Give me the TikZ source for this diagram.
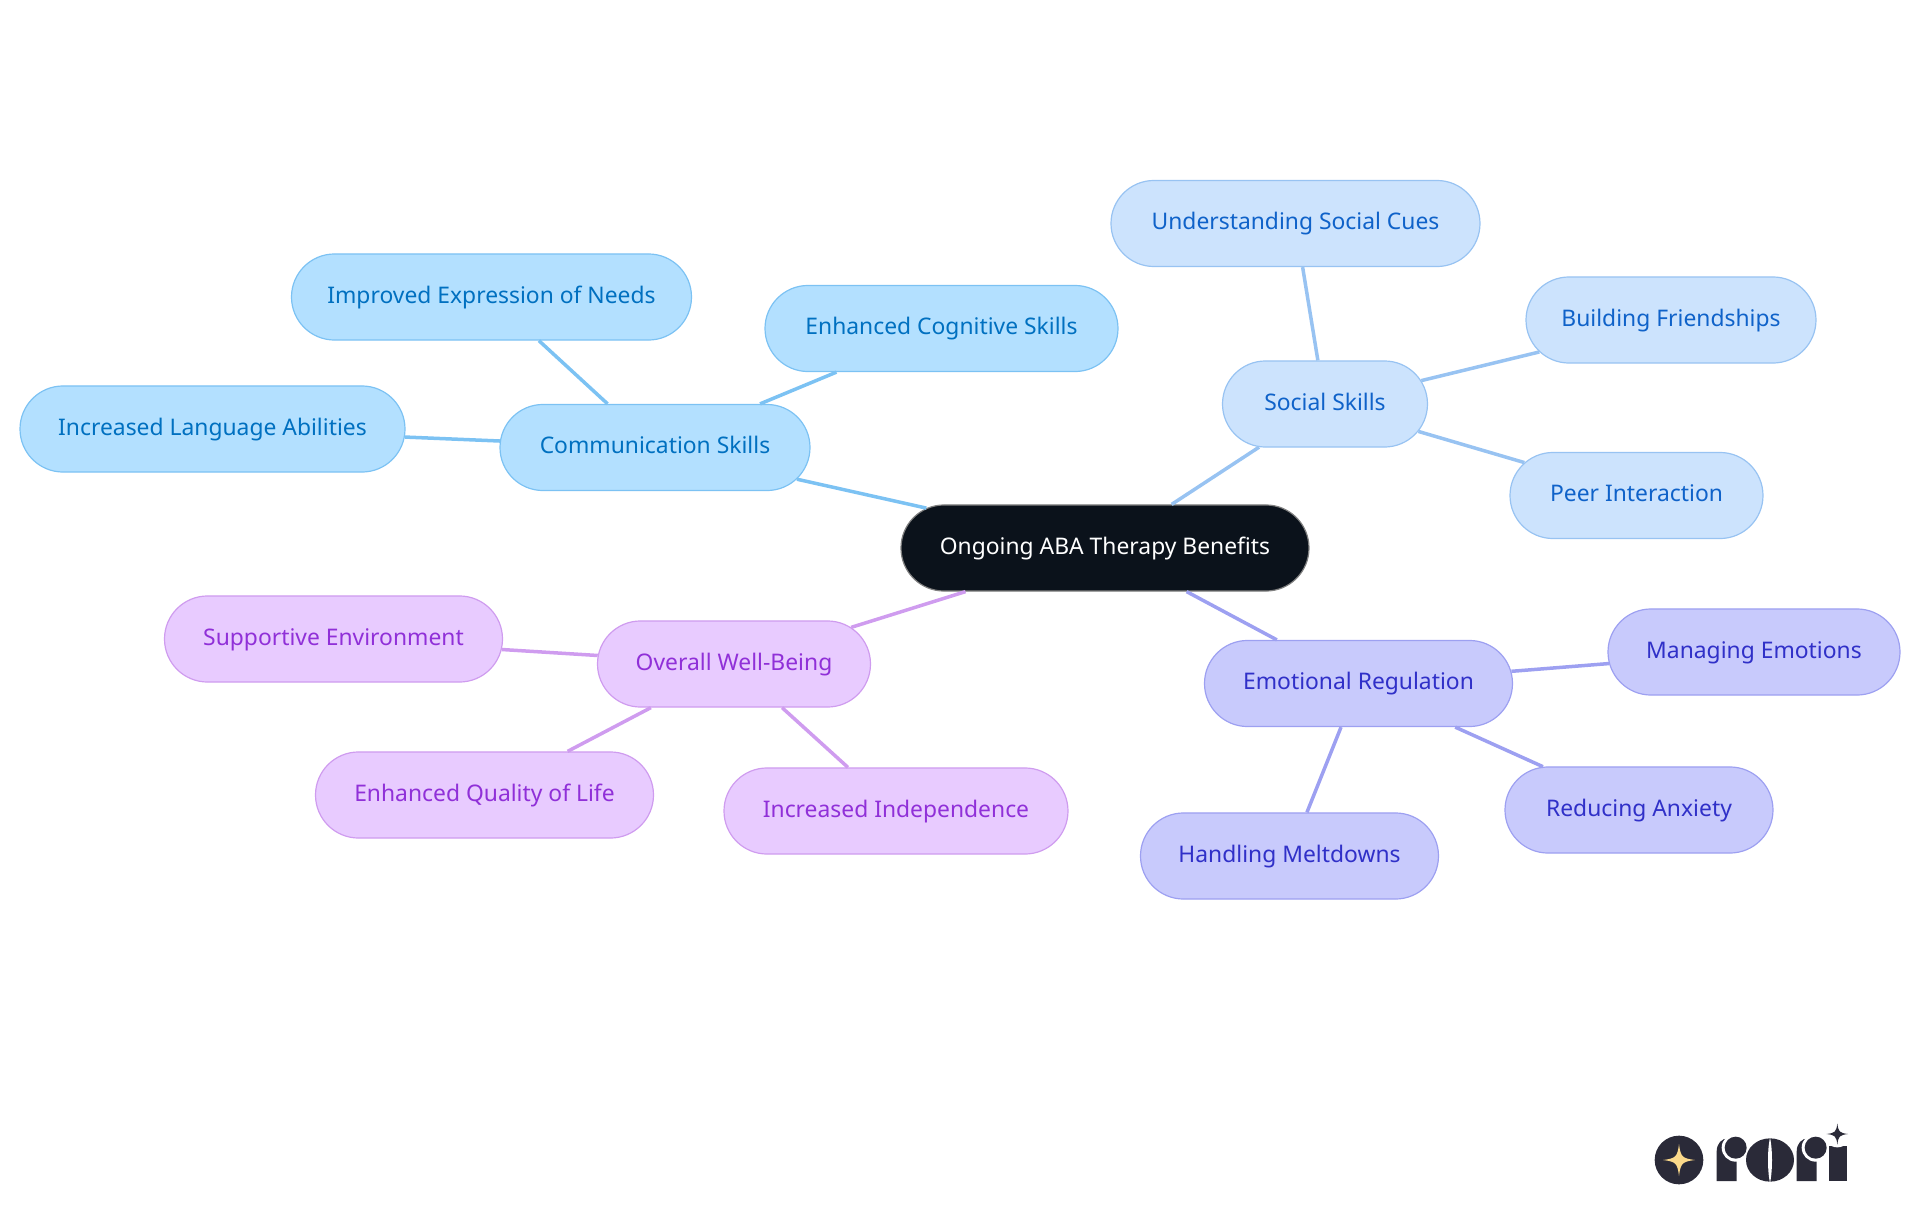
\documentclass[tikz,border=0pt]{standalone}
\usepackage{fontspec}
\setmainfont{Noto Sans}
\usetikzlibrary{shapes.misc}
\definecolor{rootfill}{HTML}{0B121B}
\definecolor{commfill}{HTML}{B3E0FF}
\definecolor{commline}{HTML}{7CC2F3}
\definecolor{commtext}{HTML}{0070C0}
\definecolor{socialfill}{HTML}{CCE3FD}
\definecolor{socialline}{HTML}{98C3F2}
\definecolor{socialtext}{HTML}{0F62C9}
\definecolor{emofill}{HTML}{C8CAFC}
\definecolor{emoline}{HTML}{9DA0F1}
\definecolor{emotext}{HTML}{3030C8}
\definecolor{wellfill}{HTML}{E8CBFF}
\definecolor{wellline}{HTML}{CF9CEF}
\definecolor{welltext}{HTML}{9030D8}
\definecolor{logodark}{HTML}{2A2A38}
\definecolor{logostar}{HTML}{FBD98A}
\newcommand\fourstar[3]{%
  \fill[#3, shift={#1}, scale=#2] (-1,0) .. controls (-.2,-.1) and (-.1,-.2) .. (0,-1)
  .. controls (.1,-.2) and (.2,-.1) .. (1,0)
  .. controls (.2,.1) and (.1,.2) .. (0,1)
  .. controls (-.1,.2) and (-.2,.1) .. (-1,0) -- cycle;}
\newcommand\logor[1]{%
  \fill[logodark, shift={(#1,0)}] (0,243) -- (0,155) .. controls (0,130) and (15,115) .. (35,115) -- (60,115) -- (60,243) -- cycle;
  \fill[white, shift={(#1,0)}] (57,143) circle (42);
  \fill[logodark, shift={(#1,0)}] (57,143) circle (33);}
\tikzset{
  mapnode/.style={rounded rectangle, draw, line width=.012cm, minimum height=.86cm, inner xsep=0pt,
    text height=.17cm, text depth=.05cm, font=\fontsize{6.5pt}{8pt}\selectfont},
  rootnode/.style={mapnode, fill=rootfill, draw=gray, text=white},
  commnode/.style={mapnode, fill=commfill, draw=commline, text=commtext},
  socialnode/.style={mapnode, fill=socialfill, draw=socialline, text=socialtext},
  emonode/.style={mapnode, fill=emofill, draw=emoline, text=emotext},
  wellnode/.style={mapnode, fill=wellfill, draw=wellline, text=welltext},
  link/.style={line width=.035cm},
  wd/.style={minimum width=#1*.01cm},
}

\begin{document}
\begin{tikzpicture}[x=.01cm, y=-.01cm]
      \useasboundingbox (0,0) rectangle (1920,1215);

      \node[rootnode, wd=408] (root) at (1105,548) {Ongoing ABA Therapy Benefits};

      \node[commnode, wd=310] (comm) at (655,447.5) {Communication Skills};
      \node[commnode, wd=400] (needs) at (491.5,297) {Improved Expression of Needs};
      \node[commnode, wd=353] (cognitive) at (941.5,328.5) {Enhanced Cognitive Skills};
      \node[commnode, wd=385] (language) at (212.5,429) {Increased Language Abilities};

      \node[socialnode, wd=205] (social) at (1325,404) {Social Skills};
      \node[socialnode, wd=369] (cues) at (1295.5,223.5) {Understanding Social Cues};
      \node[socialnode, wd=290] (friends) at (1671,320) {Building Friendships};
      \node[socialnode, wd=253] (peer) at (1636.5,495.5) {Peer Interaction};

      \node[emonode, wd=308] (emotion) at (1358.5,683.5) {Emotional Regulation};
      \node[emonode, wd=292] (managing) at (1754,652) {Managing Emotions};
      \node[emonode, wd=268] (anxiety) at (1639,810) {Reducing Anxiety};
      \node[emonode, wd=298] (meltdowns) at (1289.5,856) {Handling Meltdowns};

      \node[wellnode, wd=273] (well) at (734,664) {Overall Well-Being};
      \node[wellnode, wd=338] (support) at (333.5,639) {Supportive Environment};
      \node[wellnode, wd=338] (quality) at (484.5,795) {Enhanced Quality of Life};
      \node[wellnode, wd=344] (independence) at (896,811) {Increased Independence};

      \draw[link, commline] (root) -- (comm) (comm) -- (needs) (comm) -- (cognitive) (comm) -- (language);
      \draw[link, socialline] (root) -- (social) (social) -- (cues) (social) -- (friends) (social) -- (peer);
      \draw[link, emoline] (root) -- (emotion) (emotion) -- (managing) (emotion) -- (anxiety) (emotion) -- (meltdowns);
      \draw[link, wellline] (root) -- (well) (well) -- (support) (well) -- (quality) (well) -- (independence);

      % logo, in 3x pixels
      \begin{scope}[shift={(1620,1100)}, x=.01cm/3, y=-.01cm/3]
        \fill[logodark] (177,180) circle (73);
        \fourstar{(177,180)}{48}{logostar}
        \logor{290}
        \fill[logodark] (450,180) ellipse (72 and 65);
        \fill[white] (450,112) .. controls (458,150) and (458,210) .. (450,250) .. controls (442,210) and (442,150) .. (450,112) -- cycle;
        \logor{530}
        \fill[logodark] (627,243) -- (627,138) -- (680,138) -- (680,243) -- cycle;
        \fill[white] (652,102) circle (40);
        \fourstar{(652,102)}{32}{logodark}
      \end{scope}
\end{tikzpicture}
\end{document}
